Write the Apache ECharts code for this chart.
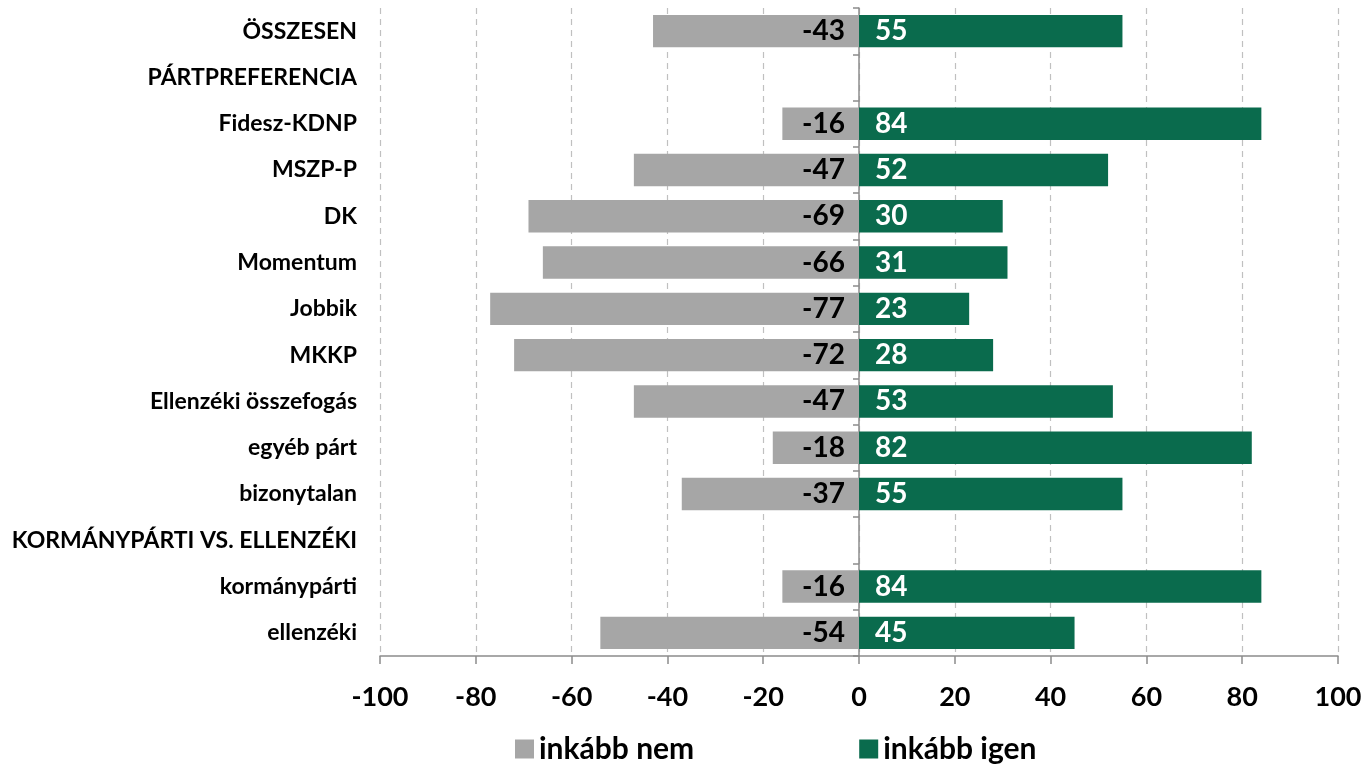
<!DOCTYPE html>
<html>
<head>
<meta charset="utf-8">
<script src="https://cdn.jsdelivr.net/npm/echarts@6/dist/echarts.min.js"></script>
<style>
  html, body { margin: 0; padding: 0; background: #fff; }
  #main { width: 1365px; height: 769px; }
</style>
</head>
<body>
<div id="main"></div>
<script>
// kategóriák és értékek
var categories = ['ÖSSZESEN', 'PÁRTPREFERENCIA', 'Fidesz-KDNP', 'MSZP-P', 'DK', 'Momentum', 'Jobbik', 'MKKP',
  'Ellenzéki összefogás', 'egyéb párt', 'bizonytalan', 'KORMÁNYPÁRTI VS. ELLENZÉKI', 'kormánypárti', 'ellenzéki'];
var nemValues = [-43, null, -16, -47, -69, -66, -77, -72, -47, -18, -37, null, -16, -54];
var igenValues = [55, null, 84, 52, 30, 31, 23, 28, 53, 82, 55, null, 84, 45];
var xTicks = { min: -100, max: 100, interval: 20 };

var fontName = 'Lato';
var myChart = echarts.init(document.getElementById('main'));

var option = {
  animation: false,
  textStyle: { fontFamily: fontName },
  grid: { left: 380, right: 27, top: 8, bottom: 113 },
  legend: {
    bottom: 0,
    left: 510,
    itemGap: 165,
    itemWidth: 19,
    itemHeight: 19,
    icon: 'rect',
    textStyle: { fontSize: 30, fontWeight: 'bold', color: '#000', fontFamily: fontName },
    data: ['inkább nem', 'inkább igen']
  },
  xAxis: {
    type: 'value',
    min: xTicks.min,
    max: xTicks.max,
    interval: xTicks.interval,
    axisLine: { show: true, lineStyle: { color: '#8c8c8c', width: 1.5 } },
    axisTick: { show: true, length: 8, lineStyle: { color: '#8c8c8c', width: 1.5 } },
    axisLabel: { fontSize: 27, fontWeight: 'bold', color: '#000', margin: 28 },
    splitLine: { show: true, lineStyle: { color: '#c0c0c0', type: [6, 5], width: 1.2 } }
  },
  yAxis: [
    {
      type: 'category',
      data: categories,
      inverse: true,
      position: 'left',
      axisLine: { show: false, onZero: false },
      axisTick: { show: false },
      axisLabel: { fontSize: 23, fontWeight: 'bold', color: '#000', margin: 23 }
    },
    {
      type: 'category',
      data: categories,
      inverse: true,
      position: 'left',
      axisLine: { show: true, onZero: true, lineStyle: { color: '#8c8c8c', width: 1.5 } },
      axisTick: { show: true, length: 6, lineStyle: { color: '#8c8c8c', width: 1.5 } },
      axisLabel: { show: false }
    }
  ],
  series: [
    {
      name: 'inkább nem',
      type: 'bar',
      stack: 'total',
      barCategoryGap: '30%',
      itemStyle: { color: '#a6a6a6' },
      label: {
        show: true,
        position: 'insideRight',
        distance: 14,
        fontSize: 28,
        fontWeight: 'bold',
        color: '#000'
      },
      data: nemValues
    },
    {
      name: 'inkább igen',
      type: 'bar',
      stack: 'total',
      barCategoryGap: '30%',
      itemStyle: { color: '#0a6b4d' },
      label: {
        show: true,
        position: 'insideLeft',
        distance: 16,
        fontSize: 28,
        fontWeight: 'bold',
        color: '#fff'
      },
      data: igenValues
    }
  ]
};

myChart.setOption(option);
window.addEventListener('resize', function() {
  myChart.resize();
});
</script>
</body>
</html>
